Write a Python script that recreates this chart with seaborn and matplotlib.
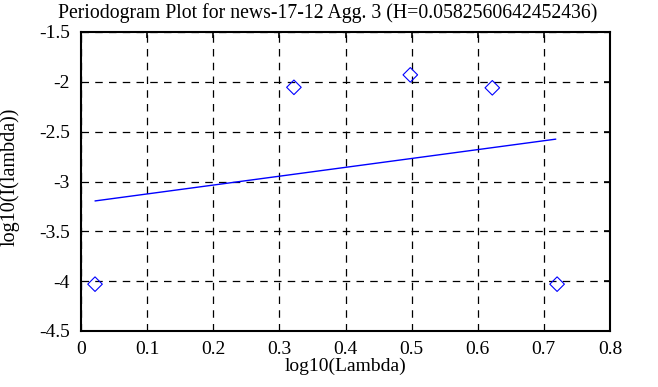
import numpy as np
import pandas as pd
import matplotlib
matplotlib.use('Agg')
import matplotlib.pyplot as plt
import seaborn as sns

# periodogram points
log_lambda = [0.0212, 0.322, 0.498, 0.622, 0.720]
log_I = [-4.03, -2.055, -1.93, -2.06, -4.03]
# fitted line end points
fit_x = [0.0212, 0.718]
fit_y = [-3.195, -2.575]

pts = pd.DataFrame({'x': log_lambda, 'y': log_I})
fit = pd.DataFrame({'x': fit_x, 'y': fit_y})

sns.set_style('white')
plt.rcParams['font.family'] = ['Liberation Serif', 'DejaVu Serif']
plt.rcParams['font.size'] = 14
plt.rcParams['xtick.direction'] = 'in'
plt.rcParams['ytick.direction'] = 'in'

fig = plt.figure(figsize=(6.58, 3.87), dpi=100)
ax = fig.add_axes([81/658, 1 - 331/387, 529/658, 299/387])

sns.lineplot(data=fit, x='x', y='y', ax=ax, color='blue', linewidth=1)
sns.scatterplot(data=pts, x='x', y='y', ax=ax, marker='D', s=55,
                facecolor='none', edgecolor='blue', linewidth=0.8, zorder=3)

ax.set_xlim(0, 0.8)
ax.set_ylim(-4.5, -1.5)
ax.set_xticks(np.arange(0, 0.81, 0.1))
ax.set_yticks(np.arange(-4.5, -1.49, 0.5))
ax.set_xticklabels(['0', '0.1', '0.2', '0.3', '0.4', '0.5', '0.6', '0.7', '0.8'])
ax.set_yticklabels(['-4.5', '-4', '-3.5', '-3', '-2.5', '-2', '-1.5'])
ax.tick_params(top=True, right=True, length=4, width=1.2, color='black',
               labelcolor='black', labelsize=14)
ax.tick_params(axis='x', pad=7)
ax.tick_params(axis='y', pad=8)
ax.grid(True, color='black', linestyle=(0, (6, 5)), linewidth=0.9)
for s in ax.spines.values():
    s.set_color('black')
    s.set_linewidth(1.5)

ax.set_xlabel('log10(Lambda)', color='black', fontsize=14, va='center')
ax.xaxis.set_label_coords(0.5, -0.117)
ax.set_ylabel('log10(I(lambda))', color='black', fontsize=14.5, va='center')
ax.yaxis.set_label_coords(-0.134, 0.515)
fig.text(0.498, 1 - 13/387, 'Periodogram Plot for news-17-12 Agg. 3 (H=0.0582560642452436)',
         ha='center', va='center', fontsize=14.2, color='black')

fig.savefig('out.png', dpi=100)
